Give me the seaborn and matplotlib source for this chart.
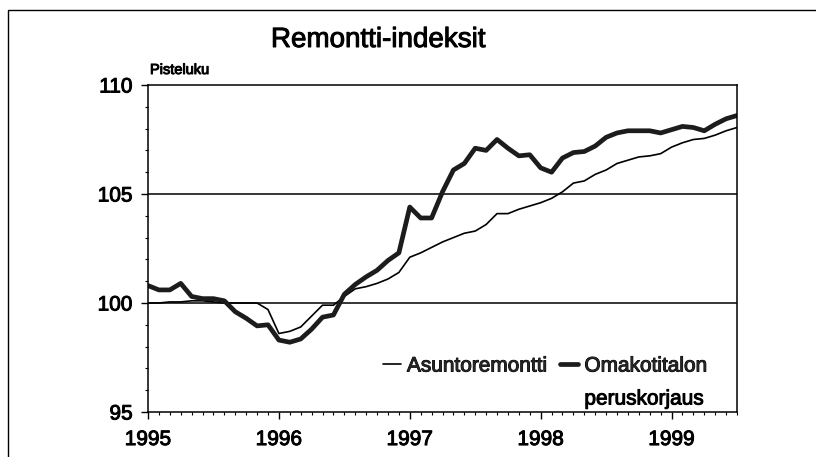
import numpy as np
import pandas as pd
import matplotlib
matplotlib.use("Agg")
import matplotlib.pyplot as plt
import matplotlib.patheffects as pe
import seaborn as sns
from matplotlib.patches import Rectangle
from matplotlib.lines import Line2D
from matplotlib.ticker import MultipleLocator

# Monthly index values, Jan 1995 - Jul 1999
asuntoremontti = [
    100.0, 100.0, 100.05, 100.05, 100.1, 100.1, 100.05, 100.0, 100.0, 100.0,
    100.0, 99.7, 98.6, 98.7, 98.9, 99.4, 99.9, 99.9, 100.3, 100.65,
    100.75, 100.9, 101.1, 101.4, 102.1, 102.3, 102.55, 102.8, 103.0, 103.2,
    103.3, 103.6, 104.1, 104.1, 104.3, 104.45, 104.6, 104.8, 105.1, 105.5,
    105.6, 105.9, 106.1, 106.4, 106.55, 106.7, 106.75, 106.85, 107.15, 107.35,
    107.5, 107.55, 107.7, 107.9, 108.05,
]
omakotitalon = [
    100.8, 100.6, 100.6, 100.9, 100.3, 100.2, 100.2, 100.1, 99.6, 99.3,
    98.95, 99.0, 98.3, 98.2, 98.35, 98.8, 99.35, 99.45, 100.4, 100.85,
    101.2, 101.5, 101.95, 102.3, 104.4, 103.9, 103.9, 105.1, 106.1, 106.4,
    107.1, 107.0, 107.5, 107.1, 106.75, 106.8, 106.2, 106.0, 106.65, 106.9,
    106.95, 107.2, 107.6, 107.8, 107.9, 107.9, 107.9, 107.8, 107.95, 108.1,
    108.05, 107.9, 108.2, 108.45, 108.6,
]
years = [1995, 1996, 1997, 1998, 1999]
series_names = ["Asuntoremontti", "Omakotitalon peruskorjaus"]

months = pd.date_range("1995-01-01", periods=len(asuntoremontti), freq="MS")
df = pd.DataFrame({
    "aika": months.year + (months.month - 1) / 12,
    series_names[0]: asuntoremontti,
    series_names[1]: omakotitalon,
})
long_df = df.melt(id_vars="aika", var_name="sarja", value_name="arvo")

sns.set_theme(style="white")
plt.rcParams["font.family"] = ["Liberation Sans", "DejaVu Sans"]

# slightly heavier text, like the scanned original
heavy = [pe.withStroke(linewidth=0.7, foreground="black")]

fig = plt.figure(figsize=(8.16, 4.57), dpi=100)
ax = fig.add_axes([148 / 816, 1 - 412 / 457, (737 - 148) / 816, (412 - 85) / 457])

sns.lineplot(data=long_df, x="aika", y="arvo", hue="sarja", size="sarja",
             sizes={series_names[0]: 1.2, series_names[1]: 3.4},
             palette={series_names[0]: "black", series_names[1]: "#1c1c1c"},
             ax=ax, legend=False)

ax.set_xlim(1995, 1999.5)
ax.set_ylim(95, 110)
ax.set_xticks(years)
ax.set_xticklabels([str(y) for y in years])
ax.xaxis.set_minor_locator(MultipleLocator(1 / 12))
ax.set_yticks([95, 100, 105, 110])
ax.yaxis.set_minor_locator(MultipleLocator(1))
ax.set_xlabel("")
ax.set_ylabel("")

ax.tick_params(axis="both", which="major", direction="out", length=5, width=1,
               color="black", labelsize=15, labelcolor="black", left=True, bottom=True)
ax.tick_params(axis="y", which="major", pad=6)
ax.tick_params(axis="x", which="major", pad=8)
ax.tick_params(axis="both", which="minor", direction="out", length=2.5, width=0.8,
               color="black", left=True, bottom=True)
for lab in ax.get_xticklabels() + ax.get_yticklabels():
    lab.set_path_effects(heavy)

for side in ["left", "right", "top", "bottom"]:
    ax.spines[side].set_visible(True)
    ax.spines[side].set_color("black")
    ax.spines[side].set_linewidth(1.1)

for v in [100, 105]:
    ax.axhline(v, color="black", lw=1.1, zorder=1)

# legend: second label wraps onto a second line under its first word
handles = [Line2D([], [], color="black", lw=1.2),
           Line2D([], [], color="#1c1c1c", lw=3.4)]
leg = ax.legend(handles, ["Asuntoremontti", "Omakotitalon"], ncol=2, frameon=False,
                fontsize=15, handlelength=0.85, handletextpad=0.3, columnspacing=0.6,
                loc="center left", bbox_to_anchor=(383 / 816, 1 - 366 / 457),
                bbox_transform=fig.transFigure, borderaxespad=0, borderpad=0)
for t in leg.get_texts():
    t.set_path_effects(heavy)

fig.canvas.draw()
bb = leg.get_texts()[1].get_window_extent()
fig.text(bb.x0 / 816, 1 - 399 / 457, "peruskorjaus", fontsize=15,
         ha="left", va="center", color="black", path_effects=heavy)

fig.text(378 / 816, 1 - 40 / 457, "Remontti-indeksit", fontsize=20,
         ha="center", va="center", color="black", path_effects=heavy)
fig.text(150 / 816, 1 - 70 / 457, "Pisteluku", fontsize=10.5,
         ha="left", va="center", color="black", path_effects=heavy)

fig.patches.append(Rectangle((8 / 816, -0.1), 1.2, 1 - 10 / 457 + 0.1,
                             transform=fig.transFigure, fill=False,
                             edgecolor="black", lw=1.0))

fig.savefig("out.png", dpi=100)
